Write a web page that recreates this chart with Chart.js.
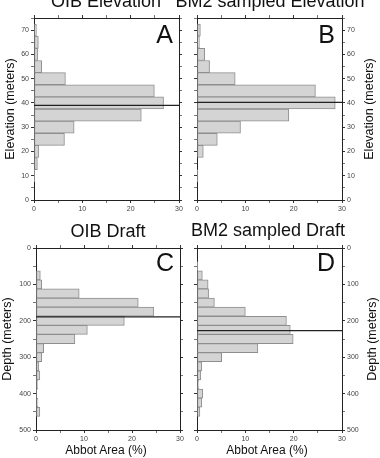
<!DOCTYPE html>
<html lang="en">
  <head>
    <title>Abbot elevation and draft</title>
    <meta charset="UTF-8" />
    <style>
      body {
        margin: 0;
        width: 380px;
        height: 458px;
        overflow: hidden;
        position: relative;
        background: #fff;
        font-family: "Liberation Sans", Arial, Helvetica, sans-serif;
        color: #111;
      }
      canvas { position: absolute; }
      .lbl { position: absolute; white-space: nowrap; line-height: 1; }
      .title { font-size: 18px; transform: translateX(-50%); }
      .letter { font-size: 25px; }
      .ytitle { font-size: 12.5px; transform: translate(-50%, -50%) rotate(-90deg); }
      .xtitle { font-size: 12px; transform: translateX(-50%); }
    </style>
  </head>
  <body>
    <canvas id="chartA" width="190" height="215" style="left:0;top:0"></canvas>
    <canvas id="chartB" width="190" height="215" style="left:190px;top:0"></canvas>
    <canvas id="chartC" width="190" height="243" style="left:0;top:215px"></canvas>
    <canvas id="chartD" width="190" height="243" style="left:190px;top:215px"></canvas>

    <div class="lbl title" style="left:106px;top:-8.5px">OIB Elevation</div>
    <div class="lbl title" style="left:270px;top:-8.5px">BM2 sampled Elevation</div>
    <div class="lbl title" style="left:108px;top:221.5px">OIB Draft</div>
    <div class="lbl title" style="left:268px;top:220.5px">BM2 sampled Draft</div>

    <div class="lbl letter" style="right:207px;top:21.7px">A</div>
    <div class="lbl letter" style="right:45px;top:21.7px">B</div>
    <div class="lbl letter" style="right:206px;top:250px">C</div>
    <div class="lbl letter" style="right:45px;top:250px">D</div>

    <div class="lbl ytitle" style="left:10px;top:109px">Elevation (meters)</div>
    <div class="lbl ytitle" style="left:369px;top:109px">Elevation (meters)</div>
    <div class="lbl ytitle" style="left:7px;top:339px">Depth (meters)</div>
    <div class="lbl ytitle" style="left:372px;top:339px">Depth (meters)</div>

    <div class="lbl xtitle" style="left:106px;top:444px">Abbot Area (%)</div>
    <div class="lbl xtitle" style="left:267px;top:444px">Abbot Area (%)</div>

    <script src="https://cdn.jsdelivr.net/npm/chart.js@4.4.0/dist/chart.umd.min.js"></script>
    <script>
      // histogram bins (bin centres) and percent of Abbot area
      var elevBins = [10, 15, 20, 25, 30, 35, 40, 45, 50, 55, 60, 65, 70];
      var oibElevation = [0.15, 0.7, 1.0, 6.3, 8.3, 22.2, 26.8, 24.9, 6.5, 1.6, 0.8, 0.9, 0.5];
      var bm2Elevation = [0.2, 0, 1.3, 4.2, 9.0, 19.0, 28.6, 24.5, 7.9, 2.6, 1.6, 0.5, 0.7];

      var depthBins = [50, 75, 100, 125, 150, 175, 200, 225, 250, 275, 300, 325, 350, 375, 400, 425, 450];
      var oibDraft = [0, 0.9, 1.2, 9.0, 21.3, 24.5, 18.4, 10.7, 8.1, 1.6, 1.2, 0.6, 0.8, 0.35, 0.1, 0.4, 0.8];
      var bm2Draft = [0.15, 1.1, 2.3, 2.4, 3.6, 10.0, 18.5, 19.3, 19.9, 12.6, 5.1, 1.0, 0.8, 0.4, 1.2, 1.0, 0.6];

      // mean lines
      var oibElevMean = 39;
      var bm2ElevMean = 40.2;
      var oibDraftMean = 189;
      var bm2DraftMean = 227;

      // tick labels
      var areaTicks = [0, 10, 20, 30];
      var elevTicks = [0, 10, 20, 30, 40, 50, 60, 70];
      var depthTicks = [0, 100, 200, 300, 400, 500];

      Chart.defaults.font.family = '"Liberation Sans", Arial, Helvetica, sans-serif';

      // horizontal line at the mean, drawn on top of the bars
      var meanLine = {
        id: "meanLine",
        afterDatasetsDraw: function (chart, args, opts) {
          var ctx = chart.ctx;
          var area = chart.chartArea;
          var y = chart.scales.y.getPixelForValue(opts.value);
          ctx.save();
          ctx.strokeStyle = "#222";
          ctx.lineWidth = 1.2;
          ctx.beginPath();
          ctx.moveTo(area.left, y);
          ctx.lineTo(area.right, y);
          ctx.stroke();
          ctx.restore();
        },
      };

      function axis(position, labels, step, min, max, size, showLabels, reverse) {
        var horizontal = position === "top" || position === "bottom";
        return {
          type: "linear",
          axis: horizontal ? "x" : "y",
          position: position,
          min: min,
          max: max,
          reverse: !!reverse,
          offset: false,
          ticks: {
            display: showLabels,
            stepSize: step,
            autoSkip: false,
            maxRotation: 0,
            padding: 2,
            color: "#444",
            font: { size: 7 },
            callback: function (v) {
              return labels.indexOf(v) >= 0 ? String(v) : "";
            },
          },
          grid: {
            drawOnChartArea: false,
            offset: false,
            tickLength: 3,
            tickWidth: 1,
            tickColor: function (c) {
              return c.tick && labels.indexOf(c.tick.value) >= 0 ? "#333" : "#777";
            },
          },
          border: { color: "#222", width: 1 },
          afterFit: function (s) {
            if (horizontal) s.height = size;
            else s.width = size;
          },
        };
      }

      function makePanel(id, bins, values, mean, cfg) {
        var other = cfg.side === "left" ? "right" : "left";
        var box = cfg.box;
        var scales = {
          x: axis("bottom", areaTicks, 5, 0, 30, box.bottom, true),
          x2: axis("top", areaTicks, 5, 0, 30, box.top, false),
          y: axis(cfg.side, cfg.labels, cfg.step, cfg.min, cfg.max, box[cfg.side], true, cfg.reverse),
          y2: axis(other, cfg.labels, cfg.step, cfg.min, cfg.max, box[other], false, cfg.reverse),
        };
        return new Chart(document.getElementById(id), {
          type: "bar",
          data: {
            datasets: [
              {
                data: bins.map(function (b, i) {
                  return { x: values[i], y: b };
                }),
                xAxisID: "x",
                yAxisID: "y",
                backgroundColor: "#d4d4d4",
                borderColor: "#8e8e8e",
                borderWidth: 1,
                borderSkipped: false,
                categoryPercentage: 1,
                barPercentage: 1,
              },
            ],
          },
          options: {
            indexAxis: "y",
            responsive: false,
            animation: false,
            layout: { padding: 0 },
            plugins: {
              legend: { display: false },
              tooltip: { enabled: false },
              meanLine: { value: mean },
            },
            scales: scales,
          },
          plugins: [meanLine],
        });
      }

      var elevCfg = { min: 0, max: 75, step: 5, labels: elevTicks, reverse: false };
      var depthCfg = { min: 0, max: 500, step: 50, labels: depthTicks, reverse: true };

      makePanel("chartA", elevBins, oibElevation, oibElevMean, Object.assign({}, elevCfg, {
        side: "left", box: { left: 34, right: 11, top: 18, bottom: 15 },
      }));
      makePanel("chartB", elevBins, bm2Elevation, bm2ElevMean, Object.assign({}, elevCfg, {
        side: "right", box: { left: 7, right: 38, top: 18, bottom: 15 },
      }));
      makePanel("chartC", depthBins, oibDraft, oibDraftMean, Object.assign({}, depthCfg, {
        side: "left", box: { left: 36, right: 10, top: 33, bottom: 28 },
      }));
      makePanel("chartD", depthBins, bm2Draft, bm2DraftMean, Object.assign({}, depthCfg, {
        side: "right", box: { left: 7, right: 38, top: 33, bottom: 28 },
      }));
    </script>
  </body>
</html>
